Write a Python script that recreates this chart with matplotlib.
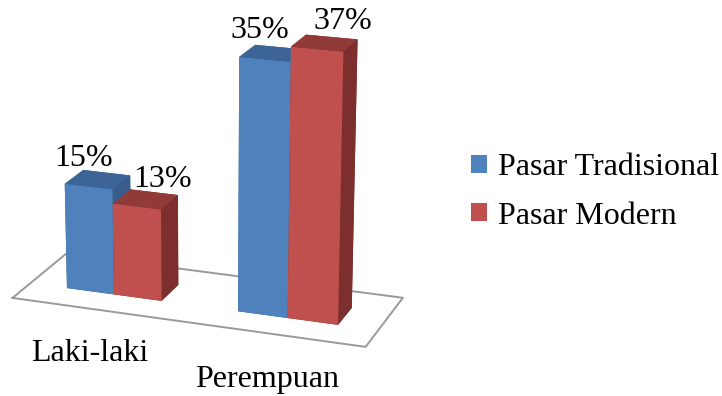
import numpy as np
import matplotlib
matplotlib.use('Agg')
import matplotlib.pyplot as plt
from matplotlib.patches import Patch
from mpl_toolkits.mplot3d import proj3d

# survey share by gender and market type (percent)
categories = ['Laki-laki', 'Perempuan']
series_names = ['Pasar Tradisional', 'Pasar Modern']
tradisional = [15, 35]
modern = [13, 37]

blue_faces = ['#385D8A', '#3D6497', '#4F81BD', '#385D8A', '#385D8A', '#385D8A']
red_faces = ['#7D2F2D', '#913B39', '#C0504D', '#7D2F2D', '#7D2F2D', '#7D2F2D']

plt.rcParams['font.family'] = ['Liberation Serif', 'DejaVu Serif']
FS = 23

fig = plt.figure(figsize=(7.22, 3.96), dpi=100)
ax = fig.add_axes([-0.03, 0.07, 0.62, 1.04], projection='3d', computed_zorder=False)

bar_w = 0.28
depth = 0.28
y0 = 0.26
centers = np.arange(len(categories)) + 0.5

# floor outline
fx = [0, 2, 2, 0, 0]
fy = [0, 0, 0.8, 0.8, 0]
ax.plot(fx, fy, [0] * 5, color='#9a9a9a', lw=1.4, zorder=1)

# bars: blue on the left of each group, red on the right
xs = np.concatenate([centers - bar_w, centers])
vals = np.array(tradisional + modern, dtype=float)
colors = blue_faces * len(categories) + red_faces * len(categories)
ax.bar3d(xs, np.full(len(xs), y0), np.zeros(len(xs)), bar_w, depth, vals,
         color=colors, shade=False, zorder=5)

ax.set_xlim(0, 2)
ax.set_ylim(0, 0.8)
ax.set_zlim(0, 40)
ax.set_box_aspect((356, 130, 288), zoom=1.18)
ax.view_init(elev=18, azim=-70)
ax.set_proj_type('persp', focal_length=1.0)
ax.set_axis_off()

fig.canvas.draw()


def label(x, y, z, s, **kw):
    # project a 3D anchor point and put plain text there
    px, py, _ = proj3d.proj_transform(x, y, z, ax.M)
    ax.text2D(px, py, s, transform=ax.transData, fontsize=FS, zorder=10, **kw)


# value labels
for c, v in zip(centers, tradisional):
    label(c - bar_w * 0.6, y0, v + 2.8, f'{v}%', ha='center', va='baseline')
for c, v in zip(centers, modern):
    label(c + bar_w * 0.85, y0 + depth / 2, v + 2.0, f'{v}%', ha='center', va='baseline')

# category labels below the floor
for c, name in zip(centers, categories):
    label(c, -0.12, -5.3, name, ha='center', va='center')

handles = [Patch(facecolor='#4F81BD'), Patch(facecolor='#C0504D')]
fig.legend(handles, series_names, loc='center left', bbox_to_anchor=(0.652, 0.515),
           frameon=False, fontsize=FS, handlelength=0.5, handleheight=0.5,
           handletextpad=0.35, labelspacing=0.6, borderpad=0, borderaxespad=0)

fig.savefig('out.png', dpi=100)
